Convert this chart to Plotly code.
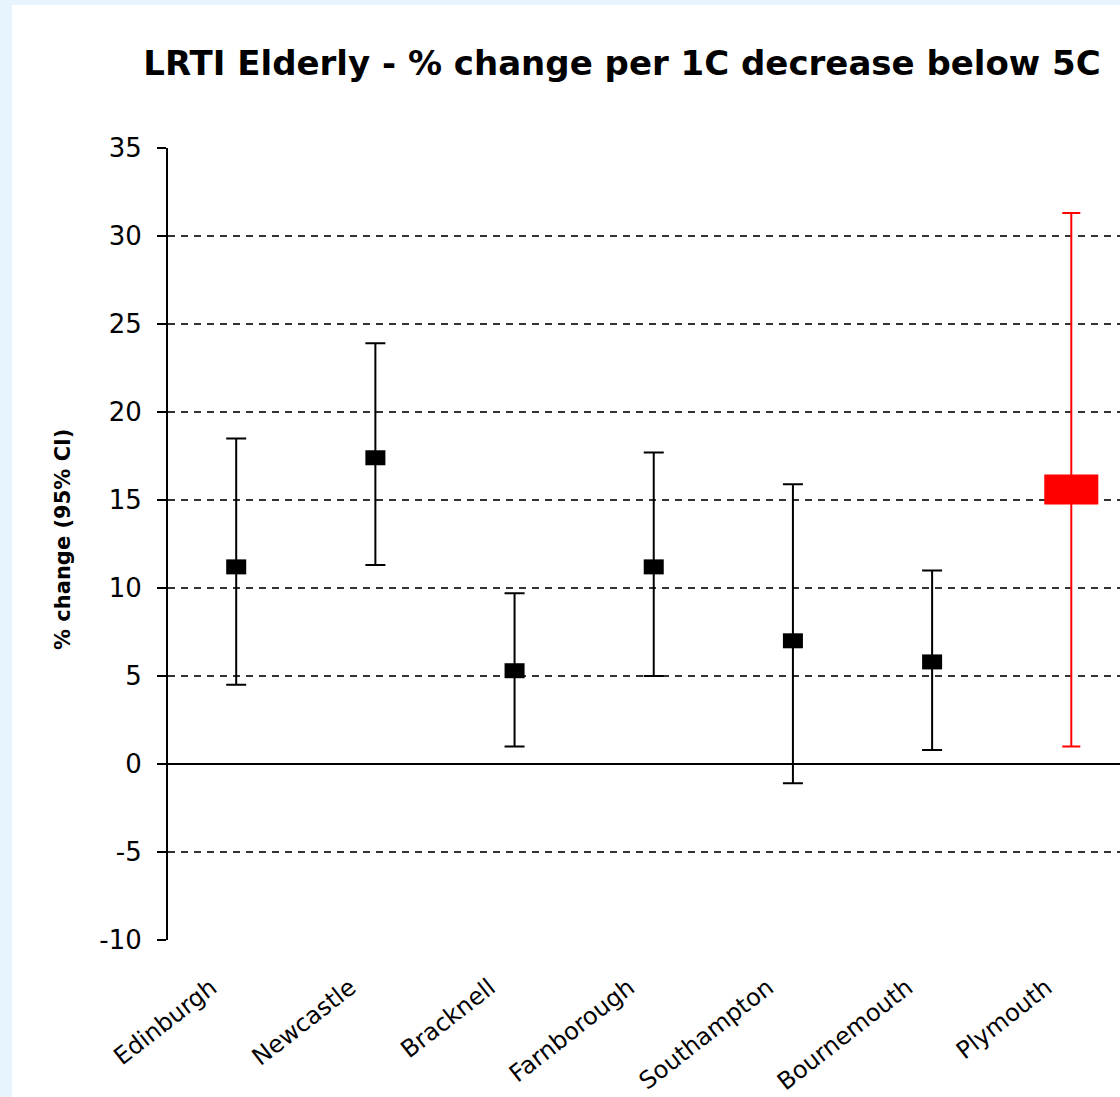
import plotly.graph_objects as go

# ---- data ----
cities = ["Edinburgh", "Newcastle", "Bracknell", "Farnborough",
          "Southampton", "Bournemouth", "Plymouth"]
estimate = [11.2, 17.4, 5.3, 11.2, 7.0, 5.8, 15.6]
upper = [18.5, 23.9, 9.7, 17.7, 15.9, 11.0, 31.3]
lower = [4.5, 11.3, 1.0, 5.0, -1.1, 0.8, 1.0]
highlight = ["Plymouth"]

y_ticks = [-10, -5, 0, 5, 10, 15, 20, 25, 30, 35]
y_tick_labels = ["-10", "-5", "0", "5", "10", "15", "20", "25", "30", "35"]

TITLE = "LRTI Elderly - % change per 1C decrease below 5C"
YTITLE = "% change (95% CI)"

FONT = "DejaVu Sans"

W, H = 1120, 1097
ML, MR, MT, MB = 168, 0, 148, 1097 - 940
PW = W - ML - MR
PH = H - MT - MB


def subset(flag):
    idx = [i for i, c in enumerate(cities) if (c in highlight) == flag]
    return ([cities[i] for i in idx], [estimate[i] for i in idx],
            [upper[i] - estimate[i] for i in idx],
            [estimate[i] - lower[i] for i in idx])


fig = go.Figure()

c0, e0, up0, lo0 = subset(False)
fig.add_trace(go.Scatter(
    x=c0, y=e0, mode="markers",
    marker=dict(symbol="line-ew", size=14.3, color="black",
                line=dict(color="black", width=15)),
    error_y=dict(type="data", symmetric=False, array=up0, arrayminus=lo0,
                 color="black", thickness=2, width=10),
    showlegend=False, hoverinfo="skip"))

c1, e1, up1, lo1 = subset(True)
fig.add_trace(go.Scatter(
    x=c1, y=e1, mode="markers",
    marker=dict(symbol="line-ew", size=38.6, color="red",
                line=dict(color="red", width=30)),
    error_y=dict(type="data", symmetric=False, array=up1, arrayminus=lo1,
                 color="red", thickness=2, width=9),
    showlegend=False, hoverinfo="skip"))

# white panel over light blue page background
fig.add_shape(type="rect", xref="paper", yref="paper", layer="below",
              x0=(12 - ML) / PW, x1=(W - ML) / PW + 0.01,
              y0=-MB / PH - 0.01, y1=(H - MB - 5) / PH,
              fillcolor="white", line=dict(width=0))

fig.add_annotation(text=f"<b>{YTITLE}</b>", xref="paper", yref="paper",
                   x=(63 - ML) / PW, y=(H - MB - 540) / PH,
                   xanchor="center", yanchor="middle",
                   textangle=-90, showarrow=False,
                   font=dict(family=FONT, size=21, color="black"))

fig.update_layout(
    width=W, height=H,
    margin=dict(l=ML, r=MR, t=MT, b=MB, pad=0),
    paper_bgcolor="#E7F3FD",
    plot_bgcolor="rgba(0,0,0,0)",
    title=dict(text=f"<b>{TITLE}</b>", xref="paper",
               x=(622 - ML) / PW, xanchor="center",
               yref="container", y=1 - 63 / H, yanchor="middle",
               font=dict(family=FONT, size=34, color="black")),
    xaxis=dict(type="category", categoryorder="array", categoryarray=cities,
               range=[-0.49, 6.35], showline=False, showgrid=False,
               zeroline=False, ticks="", tickangle=-38,
               tickfont=dict(family=FONT, size=24, color="black"),
               ticklabelstandoff=28, ticklabelshift=-25,
               automargin=False, fixedrange=True),
    yaxis=dict(range=[-10, 35], tickvals=y_ticks, ticktext=y_tick_labels,
               showline=True, linecolor="black", linewidth=2,
               ticks="outside", ticklen=9, tickwidth=1.5, tickcolor="black",
               showgrid=True, gridcolor="#333333", gridwidth=2,
               griddash="7px,6px",
               zeroline=True, zerolinecolor="black", zerolinewidth=1.5,
               tickfont=dict(family=FONT, size=26, color="black"),
               ticklabelstandoff=10, automargin=False, fixedrange=True),
    yaxis2=dict(range=[-10, 35], tickvals=y_ticks, overlaying="y",
                anchor="x", side="left", ticks="inside", ticklen=9,
                tickwidth=1.5, tickcolor="black", showticklabels=False,
                showgrid=False, zeroline=False, showline=False,
                automargin=False, fixedrange=True),
)

fig.write_html(
    "out.html",
    config={"displayModeBar": False, "staticPlot": True},
    post_script="document.body.style.margin='0';"
                "document.body.style.overflow='hidden';",
)
